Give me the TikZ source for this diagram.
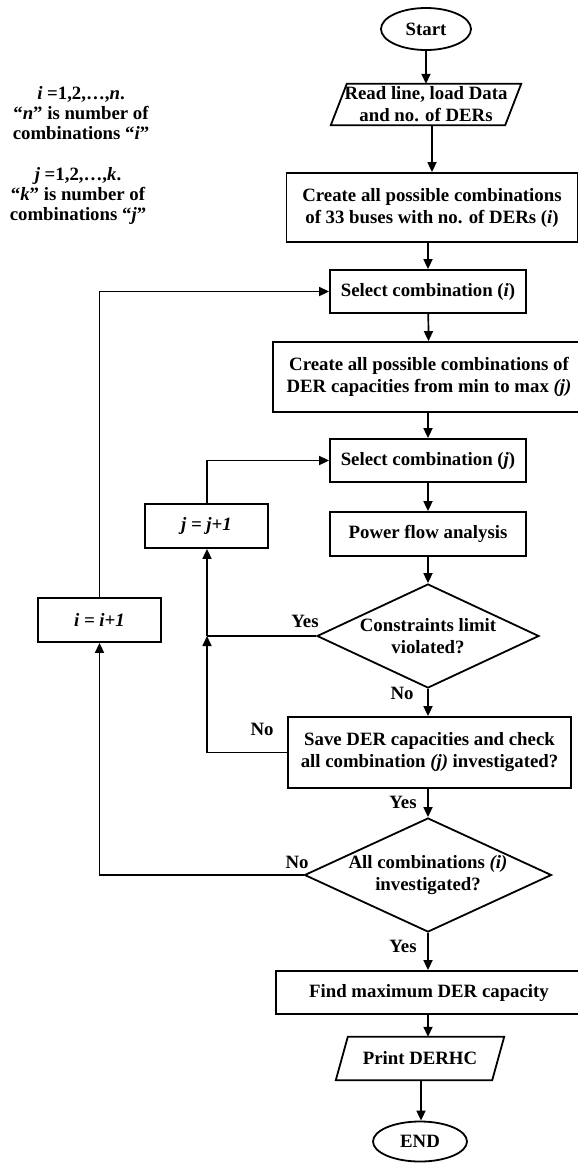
\documentclass[tikz,border=0pt]{standalone}
\usepackage{fontspec}
\setmainfont{Liberation Serif}
\usetikzlibrary{shapes.geometric,arrows.meta}
\begin{document}
\begin{tikzpicture}[x=1pt,y=-1pt,
  every node/.style={font=\fontsize{18.8}{22}\selectfont\bfseries, align=center, inner sep=0pt},
  box/.style={draw, rectangle, line width=1.8pt},
  term/.style={draw, ellipse, line width=1.8pt},
  io/.style={rectangle},
  dec/.style={draw, diamond, line width=1.8pt},
  arr/.style={line width=1.7pt, -{Triangle[length=10pt,width=9pt]}},
  ln/.style={line width=1.7pt},
  note/.style={font=\fontsize{18.8}{20}\selectfont\bfseries}]
\useasboundingbox (0,0) rectangle (578,1163);

% notes
\node[note] (noteI) at (81,113) {\textit{i} =1,2,\ldots,\textit{n}.\\``\textit{n}'' is number of\\combinations ``\textit{i}''};
\node[note] (noteJ) at (78,196) {\textit{j} =1,2,\ldots,\textit{k}.\\``\textit{k}'' is number of\\combinations ``\textit{j}''};

% main nodes
\node[term, minimum width=90pt, minimum height=42pt] (start) at (426,29) {Start};
\node[io, minimum width=174pt, minimum height=41pt] (read) at (426,104.5) {Read line, load Data\\and no. of DERs};
\draw[line width=1.8pt] ([xshift=8pt]read.north west) -- ([xshift=8pt]read.north east) -- ([xshift=-8pt]read.south east) -- ([xshift=-8pt]read.south west) -- cycle;
\node[box, minimum width=291pt, minimum height=69pt] (create1) at (432,207.5) {Create all possible combinations\\of 33 buses with no. of DERs (\textit{i})};
\node[box, minimum width=196pt, minimum height=43pt] (seli) at (428,291.5) {Select combination (\textit{i})};
\node[box, minimum width=312pt, minimum height=70pt] (create2) at (429,377) {Create all possible combinations of\\DER capacities from min to max \textit{(j)}};
\node[box, minimum width=196pt, minimum height=43pt] (selj) at (428,460.5) {Select combination (\textit{j})};
\node[box, minimum width=196pt, minimum height=44pt] (power) at (428,534) {Power flow analysis};
\node[box, minimum width=123pt, minimum height=44pt] (jbox) at (206.5,526) {\textit{j = j+1}};
\node[box, minimum width=123pt, minimum height=44pt] (ibox) at (99.5,620) {\textit{i = i+1}};
\node[dec, minimum width=222pt, minimum height=104pt, aspect=2.13] (dec1) at (428,636) {Constraints limit\\violated?};
\node[box, minimum width=283pt, minimum height=71pt] (save) at (429.5,752.5) {Save DER capacities and check\\all combination \textit{(j)} investigated?};
\node[dec, minimum width=247pt, minimum height=114pt, aspect=2.17] (dec2) at (428,875) {All combinations \textit{(i)}\\investigated?};
\node[box, minimum width=306pt, minimum height=43pt] (find) at (429,992.5) {Find maximum DER capacity};
\node[io, minimum width=156pt, minimum height=43pt] (print) at (420,1058.5) {Print DERHC};
\draw[line width=1.8pt] ([xshift=6pt]print.north west) -- ([xshift=6pt]print.north east) -- ([xshift=-6pt]print.south east) -- ([xshift=-6pt]print.south west) -- cycle;
\node[term, minimum width=94pt, minimum height=40pt] (end) at (420,1141.5) {END};

% junctions
\coordinate (jx) at (207,636);
\coordinate (px) at (428,0);
\coordinate (ex) at (421,0);

% connectors
\draw[arr] (start) -- (read);
\draw[arr] (read.south -| create1.north) -- (create1.north);
\draw[arr] (create1.south -| seli.north) -- (seli.north);
\draw[arr] (seli) -- (create2);
\draw[arr] (create2.south -| selj.north) -- (selj.north);
\draw[arr] (selj) -- (power);
\draw[arr] (power) -- (dec1);
\draw[arr] (dec1.south) -- (save.north -| dec1.south);
\draw[arr] (save.south -| dec2.north) -- (dec2.north);
\draw[arr] (dec2.south) -- (find.north -| dec2.south);
\draw[arr] (find.south -| px) -- (print.north -| px);
\draw[arr] (print.south -| ex) -- (end.north -| ex);

\draw[ln] (dec1.west) -- (jx);
\draw[arr] (jx) -- (jbox.south -| jx);
\draw[arr] (save.west) -| (jx);
\draw[arr] (jbox.north -| jx) |- (selj.west);
\draw[arr] (dec2.west) -| (ibox.south);
\draw[arr] (ibox.north) |- (seli.west);

% labels
\node (lyes1) at (305,621) {Yes};
\node (lno1) at (402,693) {No};
\node (lno2) at (262,729) {No};
\node (lyes2) at (403,802) {Yes};
\node (lno3) at (297,862) {No};
\node (lyes3) at (403,946) {Yes};
\end{tikzpicture}
\end{document}
